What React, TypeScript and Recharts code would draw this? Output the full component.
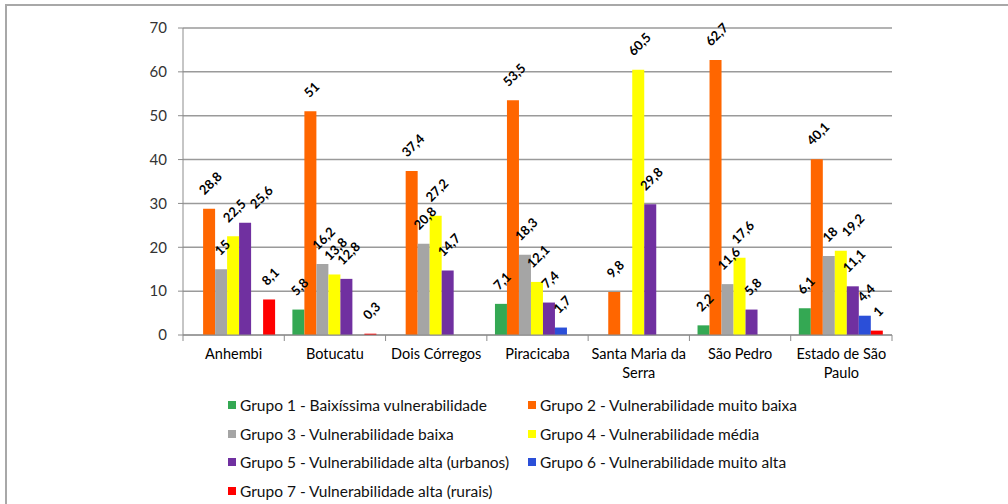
import React from 'react';
import { BarChart, Bar, XAxis, YAxis, CartesianGrid, LabelList, Text } from 'recharts';

const categories = [
  'Anhembi',
  'Botucatu',
  'Dois Córregos',
  'Piracicaba',
  'Santa Maria da Serra',
  'São Pedro',
  'Estado de São Paulo',
];

const seriesNames = [
  'Grupo 1 - Baixíssima vulnerabilidade',
  'Grupo 2 - Vulnerabilidade muito baixa',
  'Grupo 3 - Vulnerabilidade baixa',
  'Grupo 4 - Vulnerabilidade média',
  'Grupo 5 - Vulnerabilidade alta (urbanos)',
  'Grupo 6 - Vulnerabilidade muito alta',
  'Grupo 7 - Vulnerabilidade alta (rurais)',
];

const seriesColors = ['#34A853', '#FF6600', '#A5A5A5', '#FFFF00', '#7030A0', '#2B4FD8', '#FF0000'];

const grupo1 = [null, 5.8, null, 7.1, null, 2.2, 6.1];
const grupo2 = [28.8, 51, 37.4, 53.5, 9.8, 62.7, 40.1];
const grupo3 = [15, 16.2, 20.8, 18.3, null, 11.6, 18];
const grupo4 = [22.5, 13.8, 27.2, 12.1, 60.5, 17.6, 19.2];
const grupo5 = [25.6, 12.8, 14.7, 7.4, 29.8, 5.8, 11.1];
const grupo6 = [null, null, null, 1.7, null, null, 4.4];
const grupo7 = [8.1, 0.3, null, null, null, null, 1];

const yTicks = [0, 10, 20, 30, 40, 50, 60, 70];

const seriesValues = [grupo1, grupo2, grupo3, grupo4, grupo5, grupo6, grupo7];
const seriesKeys = seriesNames.map((_, i) => `g${i + 1}`);

const data = categories.map((name, ci) => {
  const row: Record<string, any> = { name };
  seriesKeys.forEach((k, si) => {
    row[k] = seriesValues[si][ci];
  });
  return row;
});

const FONT = "Lato, 'Open Sans', sans-serif";
const LABEL_H = 12;

const fmt = (v: number) => String(v).replace('.', ',');
const textLen = (t: string) => {
  let L = 0;
  for (const ch of t) L += ch === ',' ? 3.5 : 7.5;
  return L;
};

type Placed = { cx: number; cy: number; L: number } | null;

// Place labels of one category in series order, nudging right to avoid overlap
const placeCategory = (ci: number, x0: number, w: number, bottom: number, k: number): Placed[] => {
  const out: Placed[] = [];
  for (let j = 0; j < seriesValues.length; j++) {
    const v = seriesValues[j][ci];
    if (v === null || v === undefined) {
      out.push(null);
      continue;
    }
    const L = textLen(fmt(v));
    const top = bottom - v * k;
    const bx = x0 + j * w + w / 2 + 1;
    const cy = top - 12 - (L + 13) / 2.83;
    let d = 0;
    const collides = (cx: number) =>
      out.some((p) => {
        if (!p) return false;
        const ds = (cx - p.cx - (cy - p.cy)) / Math.SQRT2;
        const dp = (cx - p.cx + (cy - p.cy)) / Math.SQRT2;
        return Math.abs(ds) < (L + p.L) / 2 + 2 && Math.abs(dp) < LABEL_H;
      });
    while (collides(bx + d) && d < 60) d += 1;
    out.push({ cx: bx + d, cy, L });
  }
  return out;
};

const findCategory = (si: number, props: any): number => {
  const name = props?.payload?.name;
  const byName = categories.indexOf(name);
  if (byName >= 0) return byName;
  // label entries only cover non-null values: map nth entry back to its category
  const idx = Number(props.index);
  let n = -1;
  for (let c = 0; c < categories.length; c++) {
    if (seriesValues[si][c] !== null && seriesValues[si][c] !== undefined) {
      n++;
      if (n === idx) return c;
    }
  }
  return idx;
};

const makeLabel = (si: number) => (props: any) => {
  const { x, y, width, height, value } = props;
  if (value === null || value === undefined) return null;
  const ci = findCategory(si, props);
  const w = Number(width);
  const h = Math.abs(Number(height));
  const top = Number(y);
  const bottom = top + h;
  const k = value ? h / value : 0;
  const x0 = Number(x) - si * w;
  const placed = placeCategory(ci, x0, w, bottom, k)[si];
  if (!placed) return null;
  return (
    <g transform={`translate(${placed.cx}, ${placed.cy}) rotate(-45)`}>
      <text
        x={0}
        y={0}
        textAnchor="middle"
        dominantBaseline="central"
        fontWeight="bold"
        fontSize={13}
        fontFamily={FONT}
        fill="#000"
      >
        {fmt(value)}
      </text>
    </g>
  );
};

const XTick = (props: any) => {
  const { x, y, payload, index } = props;
  const half = payload && typeof payload.offset === 'number' && payload.offset > 0
    ? payload.offset
    : (Number(props.width) || 709) / categories.length / 2;
  const last = index === categories.length - 1;
  return (
    <g>
      <line x1={x - half} x2={x - half} y1={y} y2={y + 6} stroke="#8c8c8c" strokeWidth={1} />
      {last && <line x1={x + half} x2={x + half} y1={y} y2={y + 6} stroke="#8c8c8c" strokeWidth={1} />}
      <Text
        x={x}
        y={y + 14}
        width={half * 2 - 2}
        textAnchor="middle"
        verticalAnchor="start"
        lineHeight={19}
        fontSize={14.5}
        fontFamily={FONT}
        fill="#000"
      >
        {payload.value}
      </Text>
    </g>
  );
};

export default function App() {
  return (
    <div style={{ position: 'absolute', left: 0, top: 0, width: 1008, height: 504, overflow: 'hidden', background: '#fff' }}>
      <div
        style={{
          position: 'absolute',
          left: 5,
          top: 4,
          width: 1100,
          height: 600,
          border: '2px solid #a8a8a8',
          boxSizing: 'border-box',
        }}
      />
      <div style={{ position: 'absolute', left: 0, top: 0 }}>
        <BarChart
          width={1008}
          height={504}
          data={data}
          margin={{ top: 28, right: 116, left: 123, bottom: 129 }}
          barCategoryGap="8%"
          barGap={0}
        >
          <CartesianGrid vertical={false} stroke="#9a9a9a" strokeWidth={1.5} />
          <XAxis
            dataKey="name"
            height={40}
            interval={0}
            tickLine={false}
            tickSize={0}
            tickMargin={0}
            axisLine={{ stroke: '#8c8c8c' }}
            tick={<XTick />}
          />
          <YAxis
            width={60}
            domain={[0, 70]}
            ticks={yTicks}
            interval={0}
            tickSize={5}
            tickMargin={11}
            axisLine={{ stroke: '#8c8c8c' }}
            tickLine={{ stroke: '#8c8c8c' }}
            tick={{ fontSize: 15, fontFamily: FONT, fill: '#333' }}
          />
          {seriesKeys.map((k, i) => (
            <Bar key={k} dataKey={k} name={seriesNames[i]} fill={seriesColors[i]} isAnimationActive={false}>
              <LabelList dataKey={k} content={makeLabel(i)} />
            </Bar>
          ))}
        </BarChart>
      </div>
      {seriesNames.map((n, i) => {
        const col = i % 2;
        const row = Math.floor(i / 2);
        const left = col === 0 ? 228 : 528;
        const top = 405 + row * 28.7;
        return (
          <div
            key={n}
            style={{
              position: 'absolute',
              left,
              top: top - 10,
              height: 20,
              display: 'flex',
              alignItems: 'center',
              whiteSpace: 'nowrap',
              fontFamily: FONT,
              fontSize: 15.5,
              color: '#111',
            }}
          >
            <span style={{ display: 'inline-block', width: 8, height: 8, background: seriesColors[i], marginRight: 4 }} />
            <span>{n}</span>
          </div>
        );
      })}
    </div>
  );
}
